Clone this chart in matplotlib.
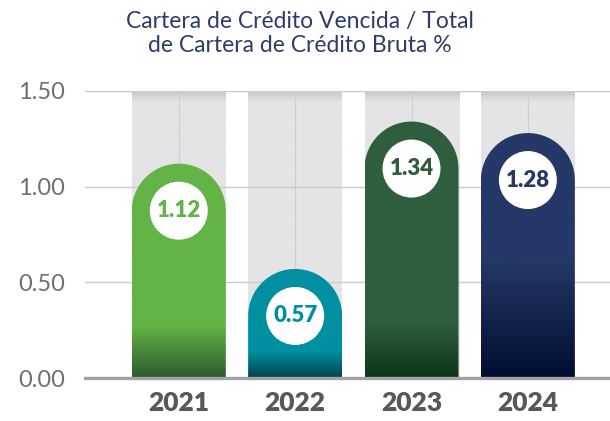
import numpy as np
import matplotlib.pyplot as plt
from matplotlib.path import Path
from matplotlib.patches import PathPatch, Ellipse
from matplotlib.colors import to_rgb

plt.rcParams['font.family'] = ['Lato', 'DejaVu Sans']

years = ['2021', '2022', '2023', '2024']
values = [1.12, 0.57, 1.34, 1.28]

# styling
top_colors = ['#63b346', '#0090a2', '#2e5e3e', '#263867']
bottom_colors = ['#2c5a2c', '#00424c', '#0b3518', '#000d30']
fade_from = [0.27, 0.14, 0.29, 0.62]   # where the dark fade starts (data units)

fig = plt.figure(figsize=(6.1, 4.21), dpi=100)
ax = fig.add_axes([0.139, 0.102, 0.861, 0.682])
ax.set_xlim(-0.808, 3.706)
ax.set_ylim(0, 1.5)

# pixel scale -> radius of the round tops in data units
px_x = 0.861 * 610 / (3.706 + 0.808)
px_y = 0.682 * 421 / 1.5
half_w = 47 / px_x
ry = 47 / px_y

x = np.arange(len(years))

# grey background columns with darker top edge
for c in x:
    yy = np.linspace(0, 1.5, 300)
    light = np.array(to_rgb('#e4e4e6'))
    dark = np.array(to_rgb('#c6c6ca'))
    f = np.clip((yy - 1.44) / 0.06, 0, 1)[:, None]
    img = light * (1 - f) + dark * f
    ax.imshow(img[:, None, :], extent=[c - half_w, c + half_w, 0, 1.5],
              origin='lower', aspect='auto', zorder=0, interpolation='bilinear')
    ax.plot([c, c], [0, 1.5], color='#cdcdd1', lw=0.8, zorder=1)

for yv in [0.5, 1.0, 1.5]:
    ax.axhline(yv, color='#cbcbcf', lw=1.0, zorder=1)

for c, v, tc, bc, f0, yr in zip(x, values, top_colors, bottom_colors, fade_from, years):
    cy = v - ry
    th = np.linspace(0, np.pi, 60)
    verts = [(c - half_w, 0), (c + half_w, 0)]
    verts += list(zip(c + half_w * np.cos(th), cy + ry * np.sin(th)))
    verts += [(c - half_w, 0)]
    codes = [Path.MOVETO] + [Path.LINETO] * (len(verts) - 2) + [Path.CLOSEPOLY]
    patch = PathPatch(Path(verts, codes), facecolor='none', edgecolor='none')
    ax.add_patch(patch)

    yy = np.linspace(0, v, 300)
    t = np.clip(yy / f0, 0, 1)[:, None]
    img = np.array(to_rgb(bc)) * (1 - t) + np.array(to_rgb(tc)) * t
    im = ax.imshow(img[:, None, :], extent=[c - half_w, c + half_w, 0, v],
                   origin='lower', aspect='auto', zorder=2, interpolation='bilinear')
    im.set_clip_path(patch)

    ax.add_patch(Ellipse((c, cy), 58 / px_x, 58 / px_y, facecolor='white',
                         edgecolor='none', zorder=3))
    ax.text(c, cy, f'{v:.2f}', ha='center', va='center', fontsize=16,
            fontweight='heavy', color=tc, zorder=4)

ax.axhline(0, color='#a2a3a8', lw=2.4, zorder=5, clip_on=False)

ax.set_xticks(x)
ax.set_xticklabels(years, fontsize=19, fontweight='heavy', color='#58585b')
ax.set_yticks([0, 0.5, 1.0, 1.5])
ax.set_yticklabels(['0.00', '0.50', '1.00', '1.50'], fontsize=17, color='#6e6f73')
ax.tick_params(axis='both', length=0)
ax.tick_params(axis='y', pad=14)
ax.tick_params(axis='x', pad=9)
for s in ax.spines.values():
    s.set_visible(False)

fig.text(0.492, 0.921, 'Cartera de Crédito Vencida / Total\nde Cartera de Crédito Bruta %',
         ha='center', va='center', fontsize=16.5, color='#2c3c6c', linespacing=1.2)

fig.savefig('out.png', dpi=100)
